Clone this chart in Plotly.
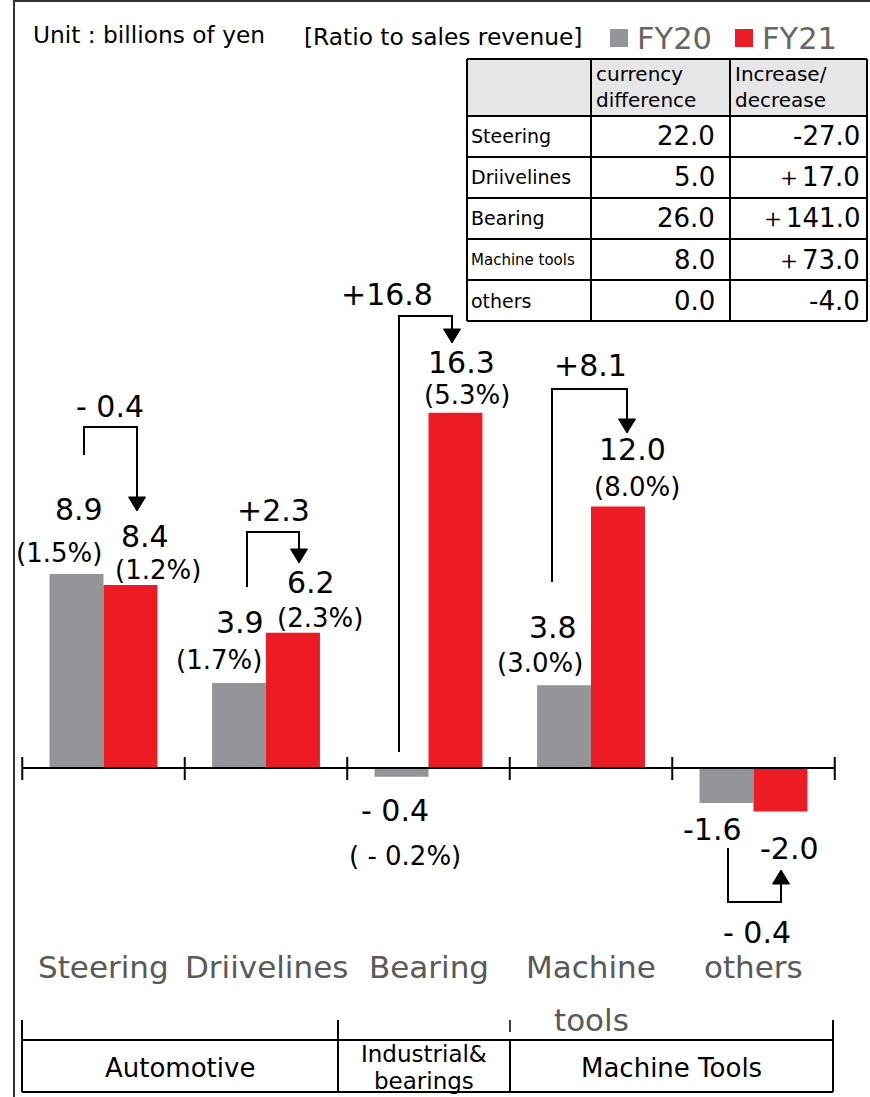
import plotly.graph_objects as go

# ---- data -------------------------------------------------------------
categories = ["Steering", "Driivelines", "Bearing", "Machine tools", "others"]
fy20 = [8.9, 3.9, -0.4, 3.8, -1.6]
fy21 = [8.4, 6.2, 16.3, 12.0, -2.0]
fy20_ratio = [1.5, 1.7, -0.2, 3.0, None]
fy21_ratio = [1.2, 2.3, 5.3, 8.0, None]
yoy_change = [-0.4, 2.3, 16.8, 8.1, -0.4]
series_names = ["FY20", "FY21"]

segments = ["Automotive", "Industrial&<br>bearings", "Machine Tools"]

table_rows = ["Steering", "Driivelines", "Bearing", "Machine tools", "others"]
table_header = ["currency<br>difference", "Increase/<br>decrease"]
currency_diff = [22.0, 5.0, 26.0, 8.0, 0.0]
increase_decrease = [-27.0, 17.0, 141.0, 73.0, -4.0]

# ---- styling ------------------------------------------------------------
W, H = 870, 1097
GRAY = "#939598"
RED = "#ED1C24"
LABEL_GRAY = "#595959"
FONT = "DejaVu Sans"
BAR_W = 0.332
NUM = 30     # value labels
PCT = 26     # ratio labels


def px(x):
    return x / W


def py(y):
    return 1 - y / H


fig = go.Figure()
fig.add_trace(go.Bar(x=list(range(len(categories))), y=fy20, name=series_names[0],
                     width=BAR_W, offset=-BAR_W, marker=dict(color=GRAY, line_width=0)))
fig.add_trace(go.Bar(x=list(range(len(categories))), y=fy21, name=series_names[1],
                     width=BAR_W, offset=0, marker=dict(color=RED, line_width=0)))

shapes = []
ann = []


def text(x, y, s, size, color="black", xanchor="center", xref="paper"):
    ann.append(dict(x=x if xref != "paper" else px(x), y=py(y), xref=xref, yref="paper",
                    text=s, showarrow=False, xanchor=xanchor, yanchor="middle",
                    borderpad=0,
                    align="left" if xanchor == "left" else "center",
                    font=dict(family=FONT, size=size, color=color)))


def line(x0, y0, x1, y1, width=2, color="black"):
    shapes.append(dict(type="line", xref="paper", yref="paper",
                       x0=px(x0), y0=py(y0), x1=px(x1), y1=py(y1),
                       line=dict(color=color, width=width)))


def bracket_arrow(points, tip, half=8.5):
    path = "M " + " L ".join(f"{px(x)},{py(y)}" for x, y in points)
    shapes.append(dict(type="path", xref="paper", yref="paper", path=path,
                       line=dict(color="black", width=2)))
    bx, by = points[-1]
    head = (f"M {px(bx - half)},{py(by)} L {px(bx + half)},{py(by)} "
            f"L {px(bx)},{py(tip)} Z")
    shapes.append(dict(type="path", xref="paper", yref="paper", path=head,
                       fillcolor="black", line=dict(color="black", width=1)))


def signed(v, spaced=True):
    if v < 0:
        return (f"- {abs(v):.1f}" if spaced else f"{v:.1f}")
    return f"+{v:.1f}"


def pct(r):
    return f"({r:.1f}%)" if r >= 0 else f"( - {abs(r):.1f}%)"


# outer frame (top and left edges)
line(14, 1, 870, 1, width=2, color="#333333")
line(14, 0, 14, 1097, width=2, color="#333333")

# category axis with boundary ticks
shapes.append(dict(type="line", xref="x", yref="y", x0=-0.5, x1=len(categories) - 0.5,
                   y0=0, y1=0, line=dict(color="black", width=2)))
for i in range(len(categories) + 1):
    shapes.append(dict(type="line", xref="x", yref="paper", x0=i - 0.5, x1=i - 0.5,
                       y0=py(757), y1=py(780), line=dict(color="black", width=2)))

# category names under the axis
for i, c in enumerate(categories):
    for k, word in enumerate(c.split(" ")):
        text(i, 967 + 53 * k, word, 31, LABEL_GRAY, xref="x")

# Steering
text(79, 509, f"{fy20[0]:.1f}", NUM)
text(59, 553, pct(fy20_ratio[0]), PCT)
text(145, 537, f"{fy21[0]:.1f}", NUM)
text(158, 570, pct(fy21_ratio[0]), PCT)
text(110, 406, signed(yoy_change[0]), NUM)
bracket_arrow([(84, 455), (84, 427), (137, 427), (137, 497)], 511)

# Driivelines
text(240, 622, f"{fy20[1]:.1f}", NUM)
text(219, 660, pct(fy20_ratio[1]), PCT)
text(311, 582, f"{fy21[1]:.1f}", NUM)
text(320, 618, pct(fy21_ratio[1]), PCT)
text(273, 510, signed(yoy_change[1]), NUM)
bracket_arrow([(247, 587), (247, 532), (299, 532), (299, 549)], 563)

# Bearing
text(395, 810, signed(fy20[2]), NUM)
text(405, 856, pct(fy20_ratio[2]), PCT)
text(461, 362, f"{fy21[2]:.1f}", NUM)
text(467, 395, pct(fy21_ratio[2]), PCT)
text(387, 295, signed(yoy_change[2]), NUM)
bracket_arrow([(399, 752), (399, 316), (452, 316), (452, 329)], 343)

# Machine tools
text(553, 627, f"{fy20[3]:.1f}", NUM)
text(540, 663, pct(fy20_ratio[3]), PCT)
text(632, 450, f"{fy21[3]:.1f}", NUM)
text(637, 487, pct(fy21_ratio[3]), PCT)
text(590, 365, signed(yoy_change[3]), NUM)
bracket_arrow([(552, 582), (552, 389), (627, 389), (627, 419)], 433)

# others
text(712, 829, f"{fy20[4]:.1f}", NUM)
text(789, 848, f"{fy21[4]:.1f}", NUM)
text(757, 932, signed(yoy_change[4]), NUM)
bracket_arrow([(728, 848), (728, 902), (781, 902), (781, 884)], 870)

# header texts and legend
text(32, 35, "Unit : billions of yen", 23.3, "black", xanchor="left")
text(303, 37, "[Ratio to sales revenue]", 23.3, "black", xanchor="left")
for (x0, color, name) in [(610, GRAY, series_names[0]), (735, RED, series_names[1])]:
    shapes.append(dict(type="rect", xref="paper", yref="paper", x0=px(x0), x1=px(x0 + 18),
                       y0=py(47), y1=py(29), fillcolor=color, line=dict(width=0)))
    text(x0 + 26, 38, name, 30.5, "#666666", xanchor="left")

# table of currency differences
cols = [467, 591, 730, 867]
rows = [59, 116, 157, 198, 239, 280, 321]
shapes.append(dict(type="rect", xref="paper", yref="paper", x0=px(cols[0]), x1=px(cols[-1]),
                   y0=py(rows[1]), y1=py(rows[0]), fillcolor="#E6E6E6", line=dict(width=0),
                   layer="below"))
for y in rows:
    line(cols[0], y, cols[-1], y, width=2)
for x in cols:
    line(x, rows[0], x, rows[-1], width=2)
for j, h in enumerate(table_header):
    text(cols[j + 1] + 4, (rows[0] + rows[1]) / 2, h, 20, "black", xanchor="left")
for r, name in enumerate(table_rows):
    yc = (rows[r + 1] + rows[r + 2]) / 2
    text(cols[0] + 3, yc, name, 15 if len(name) > 11 else 19, "black", xanchor="left")
    text(cols[2] - 14, yc, f"{currency_diff[r]:.1f}", 26, "black", xanchor="right")
    v = increase_decrease[r]
    s = f"＋{v:.1f}" if v > 0 else f"{v:.1f}"
    text(cols[3] - 6, yc, s, 26, "black", xanchor="right")

# business segment brackets
seg_edges = [22, 338, 510, 833]
for x in (22, 338, 833):
    line(x, 1020, x, 1092, width=2)
line(510, 1020, 510, 1032, width=1.5)
line(510, 1040, 510, 1092, width=2)
line(22, 1040, 833, 1040, width=2)
line(22, 1092, 833, 1092, width=2)
for k, seg in enumerate(segments):
    xc = (seg_edges[k] + seg_edges[k + 1]) / 2
    if "<br>" in seg:
        a, b = seg.split("<br>")
        text(xc, 1054, a, 23)
        text(xc, 1081, b, 23)
    else:
        text(xc, 1068, seg, 26)

# scales: 0 at 768 px, 21.8 px per billion yen; categories 162.5 px apart
y_scale = 21.8
fig.update_layout(
    width=W, height=H, autosize=False,
    margin=dict(l=0, r=0, t=0, b=0),
    paper_bgcolor="white", plot_bgcolor="white",
    showlegend=False, barmode="overlay",
    xaxis=dict(range=[-103.5 / 162.5, (W - 103.5) / 162.5], visible=False, fixedrange=True),
    yaxis=dict(range=[-(H - 768) / y_scale, 768 / y_scale], visible=False, fixedrange=True),
    shapes=shapes, annotations=ann,
)

fig.write_html("out.html")
